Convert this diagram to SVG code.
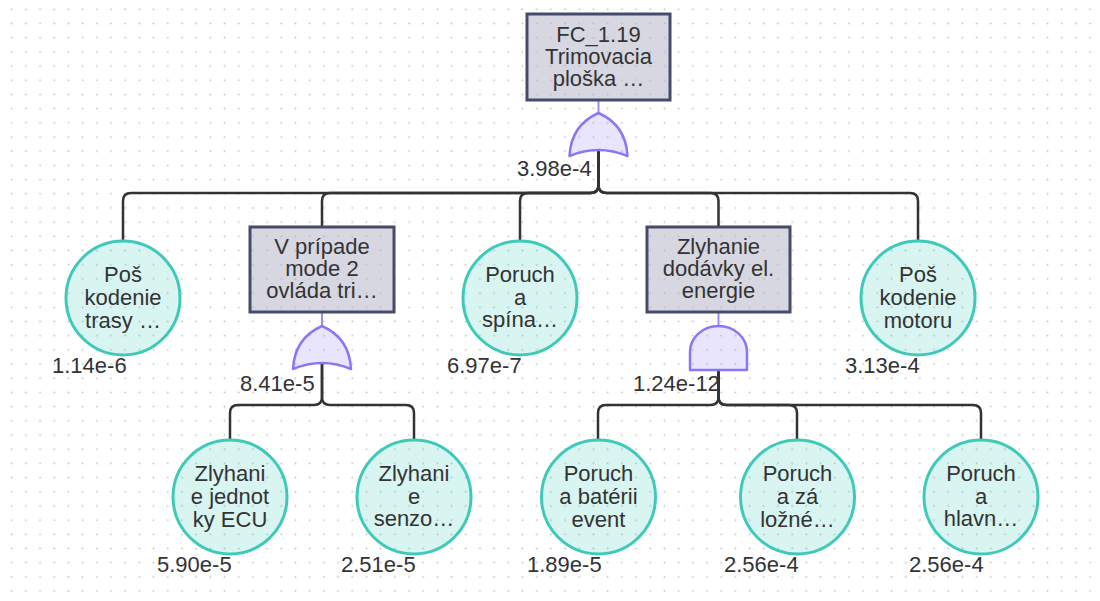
<svg xmlns="http://www.w3.org/2000/svg" width="1100" height="601" viewBox="0 0 1100 601">
<style>
.box{fill:#b0b0c4;fill-opacity:0.5;stroke:#474b6b;stroke-width:3}
.ev{fill:#3ccfbf;fill-opacity:0.2;stroke:#3ec9b9;stroke-width:3}
.gate{fill:#8b7cf6;fill-opacity:0.2;stroke:#8878f5;stroke-width:2.5;stroke-linejoin:round}
.plink{stroke:#9a8cf5;stroke-width:2;fill:none}
.conn path{fill:none;stroke:#333;stroke-width:2.5}
.t{font-family:"Liberation Sans",Arial,sans-serif;font-size:22px;fill:#333;text-anchor:middle}
.p{font-family:"Liberation Sans",Arial,sans-serif;font-size:22px;fill:#333}
</style>
<defs>
<pattern id="grid" patternUnits="userSpaceOnUse" x="4.6" y="2.2" width="14.19" height="14.19">
<circle cx="7.095" cy="7.095" r="0.9" fill="#c2c2c2"/>
</pattern>
</defs>
<rect width="1100" height="601" fill="#ffffff"/>
<rect width="1100" height="601" fill="url(#grid)"/>

<g id="connectors" class="conn">
<path d="M598.5,150 V185 Q598.5,193 590.5,193 H131 Q123,193 123,201 V241"/>
<path d="M598.5,150 V185 Q598.5,193 590.5,193 H330 Q322,193 322,201 V227"/>
<path d="M598.5,150 V185 Q598.5,193 590.5,193 H528 Q520,193 520,201 V241"/>
<path d="M598.5,150 V185 Q598.5,193 606.5,193 H710.5 Q718.5,193 718.5,201 V227"/>
<path d="M598.5,150 V185 Q598.5,193 606.5,193 H910 Q918,193 918,201 V241"/>
<path d="M322,364 V397 Q322,405 314,405 H238 Q230,405 230,413 V440"/>
<path d="M322,364 V397 Q322,405 330,405 H406 Q414,405 414,413 V440"/>
<path d="M718.5,370 V397 Q718.5,405 710.5,405 H606 Q598,405 598,413 V440"/>
<path d="M718.5,370 V397 Q718.5,405 726.5,405 H789 Q797,405 797,413 V440"/>
<path d="M718.5,370 V397 Q718.5,405 726.5,405 H973 Q981,405 981,413 V440"/>
</g>

<g id="FC_1_19">
<line class="plink" x1="598.5" y1="100" x2="598.5" y2="113"/>
<rect class="box" x="527" y="14" width="143" height="86"/>
<path class="gate" d="M598.5,113 C616.5,121 626.5,136 627.5,156 Q598.5,144 569.5,156 C570.5,136 580.5,121 598.5,113 Z"/>
<text class="t" x="598.5" y="41.5">FC_1.19</text>
<text class="t" x="598.5" y="63.5">Trimovacia</text>
<text class="t" x="598.5" y="85.5">ploška …</text>
<text class="p" x="517" y="176">3.98e-4</text>
</g>

<g id="E1">
<circle class="ev" cx="123" cy="298" r="57"/>
<text class="t" x="123" y="282">Poš</text>
<text class="t" x="123" y="305">kodenie</text>
<text class="t" x="123" y="327.5">trasy …</text>
<text class="p" x="52" y="372.5">1.14e-6</text>
</g>

<g id="G2">
<line class="plink" x1="322" y1="312" x2="322" y2="326"/>
<rect class="box" x="250" y="227" width="144" height="85"/>
<path class="gate" d="M322,326 C340,334 350,349 351,369 Q322,357 293,369 C294,349 304,334 322,326 Z"/>
<text class="t" x="322" y="253.5">V prípade</text>
<text class="t" x="322" y="275.5">mode 2</text>
<text class="t" x="322" y="297.5">ovláda tri…</text>
<text class="p" x="240" y="390.5">8.41e-5</text>
</g>

<g id="E3">
<circle class="ev" cx="520" cy="298" r="57"/>
<text class="t" x="520" y="282">Poruch</text>
<text class="t" x="520" y="304.5">a</text>
<text class="t" x="520" y="327">spína…</text>
<text class="p" x="447" y="372.5">6.97e-7</text>
</g>

<g id="G4">
<line class="plink" x1="718.5" y1="312" x2="718.5" y2="326"/>
<rect class="box" x="647" y="227" width="143" height="85"/>
<path class="gate" d="M690,370 V352 A28.5,26 0 0 1 747,352 V370 Z"/>
<text class="t" x="718.5" y="253.5">Zlyhanie</text>
<text class="t" x="718.5" y="275.5">dodávky el.</text>
<text class="t" x="718.5" y="297.5">energie</text>
<text class="p" x="633" y="390.5">1.24e-12</text>
</g>

<g id="E5">
<circle class="ev" cx="918" cy="298" r="57"/>
<text class="t" x="918" y="282">Poš</text>
<text class="t" x="918" y="305">kodenie</text>
<text class="t" x="918" y="327.5">motoru</text>
<text class="p" x="845" y="372.5">3.13e-4</text>
</g>

<g id="E6">
<circle class="ev" cx="230" cy="497" r="57"/>
<text class="t" x="230" y="481">Zlyhani</text>
<text class="t" x="230" y="504">e jednot</text>
<text class="t" x="230" y="526.5">ky ECU</text>
<text class="p" x="157" y="572">5.90e-5</text>
</g>

<g id="E7">
<circle class="ev" cx="414" cy="497" r="57"/>
<text class="t" x="414" y="481">Zlyhani</text>
<text class="t" x="414" y="503.5">e</text>
<text class="t" x="414" y="526">senzo…</text>
<text class="p" x="341" y="572">2.51e-5</text>
</g>

<g id="E8">
<circle class="ev" cx="598.5" cy="497" r="57"/>
<text class="t" x="598.5" y="481">Poruch</text>
<text class="t" x="598.5" y="504">a batérii</text>
<text class="t" x="598.5" y="526.5">event</text>
<text class="p" x="527" y="572">1.89e-5</text>
</g>

<g id="E9">
<circle class="ev" cx="797.5" cy="497" r="57"/>
<text class="t" x="797.5" y="481">Poruch</text>
<text class="t" x="797.5" y="504">a zá</text>
<text class="t" x="797.5" y="526.5">ložné…</text>
<text class="p" x="724" y="572">2.56e-4</text>
</g>

<g id="E10">
<circle class="ev" cx="981" cy="497" r="57"/>
<text class="t" x="981" y="481">Poruch</text>
<text class="t" x="981" y="503.5">a</text>
<text class="t" x="981" y="526">hlavn…</text>
<text class="p" x="909" y="572">2.56e-4</text>
</g>
</svg>
